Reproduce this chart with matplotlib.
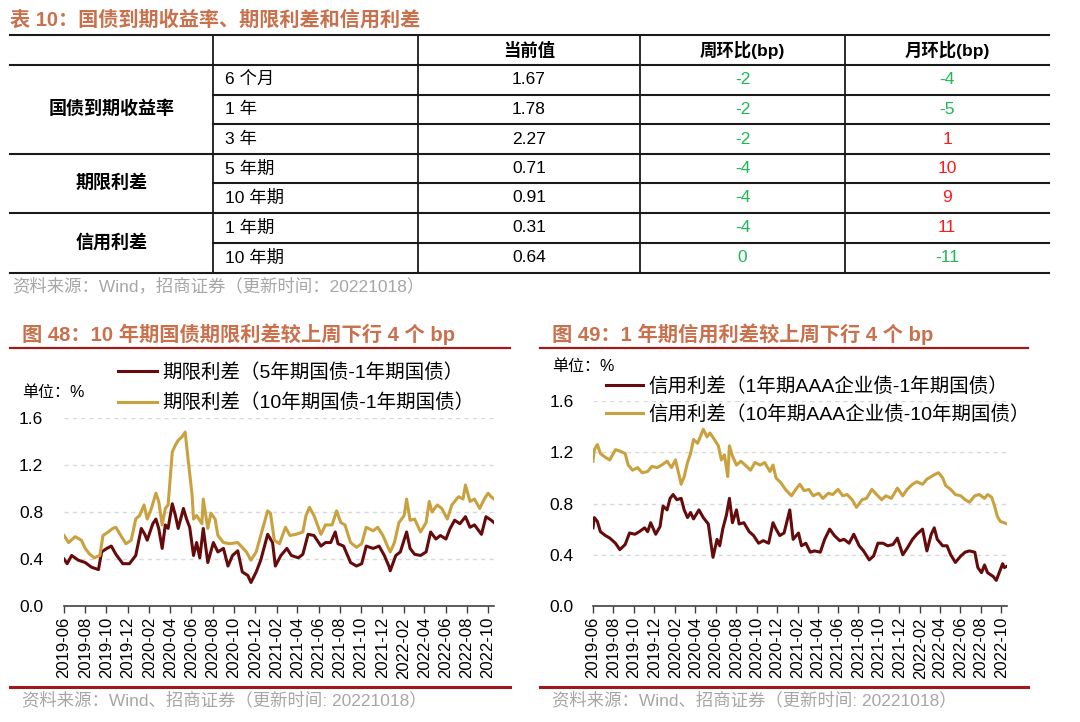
import pandas as pd
import matplotlib.pyplot as plt

plt.rcParams['font.family'] = ['Liberation Sans', 'Noto Sans CJK SC', 'DejaVu Sans']

# ---- 表10 数据 ----
groups = ['国债到期收益率', '期限利差', '信用利差']
group_sizes = [3, 2, 2]
items = ['6 个月', '1 年', '3 年', '5 年期', '10 年期', '1 年期', '10 年期']
current = [1.67, 1.78, 2.27, 0.71, 0.91, 0.31, 0.64]
wow = [-2, -2, -2, -4, -4, -4, 0]
mom = [-4, -5, 1, 10, 9, 11, -11]
headers = ['当前值', '周环比(bp)', '月环比(bp)']

# ---- 图48 期限利差 ----
term5_dates = ['2019-06-01', '2019-06-10', '2019-06-23', '2019-07-12', '2019-08-01', '2019-08-19', '2019-09-08',
               '2019-09-17', '2019-10-02', '2019-10-15', '2019-10-28', '2019-11-17', '2019-12-06', '2019-12-24',
               '2020-01-09', '2020-01-19', '2020-01-26', '2020-02-11', '2020-02-20', '2020-02-28', '2020-03-09',
               '2020-03-18', '2020-03-26', '2020-04-07', '2020-04-16', '2020-04-24', '2020-05-09', '2020-05-18',
               '2020-05-27', '2020-06-07', '2020-06-16', '2020-06-25', '2020-07-05', '2020-07-18', '2020-08-03',
               '2020-08-16', '2020-09-01', '2020-09-14', '2020-09-27', '2020-10-12', '2020-10-25', '2020-11-10',
               '2020-11-19', '2020-12-04', '2020-12-17', '2021-01-06', '2021-01-20', '2021-01-28', '2021-02-13',
               '2021-03-02', '2021-03-15', '2021-04-04', '2021-04-17', '2021-05-02', '2021-05-19', '2021-06-08',
               '2021-06-21', '2021-07-06', '2021-07-19', '2021-07-27', '2021-08-12', '2021-09-01', '2021-09-18',
               '2021-10-03', '2021-10-16', '2021-11-05', '2021-11-22', '2021-12-07', '2021-12-20', '2021-12-24',
               '2022-01-09', '2022-01-22', '2022-02-09', '2022-02-19', '2022-03-04', '2022-03-21', '2022-04-06',
               '2022-04-19', '2022-05-04', '2022-05-17', '2022-06-02', '2022-06-14', '2022-06-27', '2022-07-12',
               '2022-07-28', '2022-08-10', '2022-08-23', '2022-09-12', '2022-09-25', '2022-10-10', '2022-10-18']
term5 = [0.40, 0.36, 0.43, 0.39, 0.37, 0.33, 0.31,
         0.46, 0.49, 0.51, 0.44, 0.36, 0.36, 0.43,
         0.66, 0.61, 0.56, 0.70, 0.74, 0.66, 0.49,
         0.69, 0.66, 0.87, 0.77, 0.66, 0.83, 0.74,
         0.67, 0.43, 0.54, 0.41, 0.66, 0.37, 0.54,
         0.46, 0.49, 0.34, 0.43, 0.47, 0.29, 0.26,
         0.20, 0.29, 0.39, 0.61, 0.54, 0.34, 0.43,
         0.49, 0.43, 0.41, 0.44, 0.61, 0.60, 0.51,
         0.54, 0.54, 0.63, 0.53, 0.51, 0.37, 0.34,
         0.36, 0.51, 0.49, 0.51, 0.43, 0.34, 0.30,
         0.43, 0.46, 0.63, 0.49, 0.44, 0.43, 0.46,
         0.63, 0.57, 0.60, 0.57, 0.66, 0.73, 0.70,
         0.76, 0.67, 0.69, 0.61, 0.76, 0.73, 0.71]

term10_dates = ['2019-06-01', '2019-06-14', '2019-07-03', '2019-07-21', '2019-08-01', '2019-08-14', '2019-08-27',
                '2019-09-12', '2019-09-21', '2019-10-06', '2019-10-19', '2019-10-28', '2019-11-13', '2019-11-26',
                '2019-12-11', '2019-12-24', '2020-01-04', '2020-01-17', '2020-01-26', '2020-02-07', '2020-02-20',
                '2020-02-28', '2020-03-09', '2020-03-18', '2020-03-26', '2020-04-07', '2020-04-16', '2020-04-24',
                '2020-05-05', '2020-05-14', '2020-05-22', '2020-06-03', '2020-06-07', '2020-06-16', '2020-07-01',
                '2020-07-05', '2020-07-18', '2020-07-27', '2020-08-08', '2020-08-16', '2020-09-01', '2020-09-19',
                '2020-10-12', '2020-11-06', '2020-11-19', '2020-12-04', '2020-12-17', '2021-01-06', '2021-01-14',
                '2021-01-25', '2021-02-09', '2021-02-26', '2021-03-11', '2021-03-28', '2021-04-17', '2021-04-26',
                '2021-05-06', '2021-05-19', '2021-06-08', '2021-06-21', '2021-07-10', '2021-07-23', '2021-08-04',
                '2021-08-16', '2021-09-01', '2021-09-18', '2021-10-03', '2021-10-16', '2021-11-05', '2021-11-18',
                '2021-12-03', '2021-12-16', '2021-12-24', '2022-01-05', '2022-01-18', '2022-02-02', '2022-02-09',
                '2022-02-19', '2022-03-04', '2022-03-21', '2022-04-06', '2022-04-15', '2022-04-23', '2022-05-08',
                '2022-05-21', '2022-06-06', '2022-06-19', '2022-07-08', '2022-07-21', '2022-07-28', '2022-08-10',
                '2022-08-23', '2022-09-07', '2022-09-20', '2022-10-01', '2022-10-10', '2022-10-18']
term10 = [0.60, 0.54, 0.59, 0.56, 0.49, 0.44, 0.41,
          0.43, 0.60, 0.63, 0.66, 0.67, 0.59, 0.53,
          0.56, 0.74, 0.77, 0.86, 0.74, 0.83, 0.96,
          0.89, 0.69, 0.83, 0.86, 1.31, 1.37, 1.41,
          1.44, 1.48, 1.26, 0.94, 0.74, 0.77, 0.70,
          0.91, 0.66, 0.79, 0.74, 0.60, 0.54, 0.53,
          0.54, 0.46, 0.39, 0.46, 0.60, 0.81, 0.79,
          0.56, 0.53, 0.67, 0.60, 0.61, 0.63, 0.77,
          0.84, 0.77, 0.61, 0.69, 0.69, 0.81, 0.71,
          0.69, 0.54, 0.50, 0.53, 0.67, 0.64, 0.67,
          0.60, 0.51, 0.46, 0.54, 0.71, 0.77, 0.91,
          0.73, 0.74, 0.63, 0.71, 0.89, 0.80, 0.86,
          0.83, 0.74, 0.86, 0.93, 0.91, 1.03, 0.89,
          0.91, 0.83, 0.91, 0.96, 0.93, 0.91]

# ---- 图49 信用利差 ----
credit1_dates = ['2019-06-01', '2019-06-05', '2019-06-14', '2019-06-23', '2019-07-08', '2019-07-21', '2019-08-07',
                 '2019-08-20', '2019-09-05', '2019-09-18', '2019-10-04', '2019-10-17', '2019-11-02', '2019-11-11',
                 '2019-11-20', '2019-12-05', '2019-12-18', '2019-12-27', '2020-01-08', '2020-01-17', '2020-01-26',
                 '2020-02-06', '2020-02-19', '2020-02-28', '2020-03-09', '2020-03-18', '2020-03-27', '2020-04-12',
                 '2020-04-25', '2020-05-10', '2020-05-19', '2020-05-24', '2020-06-05', '2020-06-13', '2020-06-22',
                 '2020-07-03', '2020-07-12', '2020-07-21', '2020-08-02', '2020-08-10', '2020-08-24', '2020-09-09',
                 '2020-09-22', '2020-10-07', '2020-10-21', '2020-11-06', '2020-11-19', '2020-11-28', '2020-12-09',
                 '2020-12-22', '2021-01-08', '2021-01-18', '2021-02-03', '2021-02-12', '2021-02-25', '2021-03-10',
                 '2021-03-23', '2021-04-09', '2021-04-22', '2021-05-07', '2021-05-21', '2021-06-06', '2021-06-19',
                 '2021-07-04', '2021-07-18', '2021-08-03', '2021-08-16', '2021-09-02', '2021-09-15', '2021-09-28',
                 '2021-10-13', '2021-10-27', '2021-11-12', '2021-11-25', '2021-12-11', '2021-12-24', '2022-01-09',
                 '2022-01-22', '2022-02-08', '2022-02-21', '2022-03-06', '2022-03-15', '2022-03-24', '2022-04-09',
                 '2022-04-22', '2022-05-03', '2022-05-17', '2022-06-02', '2022-06-15', '2022-06-28', '2022-07-14',
                 '2022-07-23', '2022-08-03', '2022-08-12', '2022-08-21', '2022-09-07', '2022-09-16', '2022-10-05',
                 '2022-10-10', '2022-10-18']
credit1 = [0.61, 0.69, 0.66, 0.58, 0.55, 0.53, 0.49,
           0.44, 0.48, 0.57, 0.56, 0.58, 0.61, 0.58,
           0.65, 0.56, 0.62, 0.78, 0.75, 0.84, 0.87,
           0.83, 0.84, 0.75, 0.69, 0.73, 0.68, 0.75,
           0.69, 0.64, 0.47, 0.38, 0.52, 0.47, 0.60,
           0.71, 0.84, 0.65, 0.75, 0.64, 0.65, 0.58,
           0.55, 0.49, 0.51, 0.49, 0.65, 0.60, 0.55,
           0.57, 0.75, 0.52, 0.57, 0.47, 0.49, 0.42,
           0.43, 0.42, 0.52, 0.60, 0.55, 0.51, 0.52,
           0.49, 0.56, 0.47, 0.43, 0.36, 0.39, 0.49,
           0.49, 0.47, 0.48, 0.53, 0.40, 0.45, 0.52,
           0.56, 0.60, 0.43, 0.56, 0.61, 0.52, 0.47,
           0.47, 0.40, 0.34, 0.39, 0.42, 0.43, 0.42,
           0.30, 0.26, 0.32, 0.26, 0.23, 0.20, 0.33,
           0.30, 0.31]

credit10_dates = ['2019-06-01', '2019-06-05', '2019-06-14', '2019-06-23', '2019-07-08', '2019-07-21', '2019-08-07',
                  '2019-08-20', '2019-09-05', '2019-09-14', '2019-09-27', '2019-10-12', '2019-10-26', '2019-11-11',
                  '2019-11-24', '2019-12-09', '2019-12-23', '2020-01-08', '2020-01-21', '2020-02-02', '2020-02-11',
                  '2020-02-19', '2020-02-28', '2020-03-09', '2020-03-18', '2020-03-27', '2020-04-08', '2020-04-16',
                  '2020-04-25', '2020-05-06', '2020-05-15', '2020-05-28', '2020-06-09', '2020-06-18', '2020-06-27',
                  '2020-07-07', '2020-07-12', '2020-07-21', '2020-08-02', '2020-08-15', '2020-08-28', '2020-09-13',
                  '2020-09-26', '2020-10-12', '2020-10-25', '2020-11-10', '2020-11-19', '2020-11-28', '2020-12-13',
                  '2020-12-26', '2021-01-13', '2021-01-26', '2021-02-07', '2021-02-20', '2021-03-06', '2021-03-19',
                  '2021-04-04', '2021-04-17', '2021-05-03', '2021-05-16', '2021-06-01', '2021-06-15', '2021-06-28',
                  '2021-07-13', '2021-07-26', '2021-08-12', '2021-08-25', '2021-09-10', '2021-09-24', '2021-10-09',
                  '2021-10-22', '2021-11-07', '2021-11-25', '2021-12-11', '2021-12-24', '2022-01-09', '2022-01-22',
                  '2022-02-08', '2022-02-21', '2022-03-06', '2022-03-19', '2022-03-28', '2022-04-09', '2022-04-18',
                  '2022-05-03', '2022-05-17', '2022-06-02', '2022-06-15', '2022-06-28', '2022-07-14', '2022-07-27',
                  '2022-08-12', '2022-08-21', '2022-09-02', '2022-09-11', '2022-09-19', '2022-09-28', '2022-10-10',
                  '2022-10-18']
credit10 = [1.13, 1.22, 1.26, 1.19, 1.16, 1.14, 1.22,
            1.21, 1.19, 1.10, 1.06, 1.08, 1.04, 1.05,
            1.09, 1.08, 1.10, 1.13, 1.08, 1.14, 1.04,
            0.95, 1.01, 1.12, 1.19, 1.30, 1.27, 1.32,
            1.38, 1.32, 1.35, 1.30, 1.25, 1.14, 1.18,
            1.01, 1.25, 1.17, 1.10, 1.13, 1.10, 1.06,
            1.12, 1.10, 1.12, 1.05, 1.10, 1.00, 0.96,
            0.91, 0.86, 0.91, 0.95, 0.90, 0.91, 0.86,
            0.88, 0.84, 0.88, 0.87, 0.91, 0.86, 0.87,
            0.83, 0.77, 0.83, 0.84, 0.91, 0.87, 0.83,
            0.86, 0.84, 0.92, 0.86, 0.91, 0.95, 0.97,
            0.95, 0.99, 1.01, 1.03, 1.04, 1.00, 0.94,
            0.91, 0.87, 0.86, 0.83, 0.81, 0.86, 0.87,
            0.84, 0.87, 0.85, 0.78, 0.70, 0.66, 0.65,
            0.64]

title_color = '#C9704C'
rule_color = '#9E1B1B'
dark_red = '#650B0B'
gold = '#C9A13E'
src_color = '#A6A6A6'

W, H = 1080, 722
fig = plt.figure(figsize=(W / 100, H / 100), dpi=100)

# 背景层：表格、标题、来源
bg = fig.add_axes([0, 0, 1, 1])
bg.set_xlim(0, W)
bg.set_ylim(H, 0)
bg.axis('off')

bg.text(10, 20, '表 10：国债到期收益率、期限利差和信用利差', fontsize=14.5, fontweight='bold',
        color=title_color, va='center', ha='left')

col_x = [10, 213, 418, 640, 845, 1049]
row_y = [35, 65, 95, 124, 154, 183, 213, 243, 273]
line_kw = dict(color='#1a1a1a', lw=1.5)

# 横线
bg.plot([col_x[0], col_x[-1]], [row_y[0], row_y[0]], **line_kw)
bg.plot([col_x[0], col_x[-1]], [row_y[1], row_y[1]], **line_kw)
edges = [1]
for n in group_sizes:
    edges.append(edges[-1] + n)
for i in range(2, len(row_y)):
    x0 = col_x[0] if i in edges else col_x[1]
    bg.plot([x0, col_x[-1]], [row_y[i], row_y[i]], **line_kw)
# 竖线
for x in col_x[1:-1]:
    bg.plot([x, x], [row_y[0], row_y[-1]], color='#1a1a1a', lw=1.3)

# 表头
for j, h in enumerate(headers):
    cx = (col_x[j + 2] + col_x[j + 3]) / 2
    bg.text(cx, (row_y[0] + row_y[1]) / 2, h, fontsize=12.5, fontweight='bold', ha='center', va='center')

# 分组标签
for g, name in enumerate(groups):
    y0, y1 = row_y[edges[g]], row_y[edges[g + 1]]
    bg.text((col_x[0] + col_x[1]) / 2, (y0 + y1) / 2, name, fontsize=13, fontweight='bold',
            ha='center', va='center')

# 行数据
for i in range(len(items)):
    cy = (row_y[i + 1] + row_y[i + 2]) / 2
    bg.text(col_x[1] + 12, cy, items[i], fontsize=12.5, ha='left', va='center')
    bg.text((col_x[2] + col_x[3]) / 2, cy, f'{current[i]:.2f}', fontsize=12.5, ha='center', va='center')
    for j, v in enumerate([wow[i], mom[i]]):
        c = '#FF1A1A' if v > 0 else '#1DB954'
        bg.text((col_x[j + 3] + col_x[j + 4]) / 2, cy, str(v), fontsize=12.5, color=c,
                ha='center', va='center')

bg.text(12, 286, '资料来源：Wind，招商证券（更新时间：20221018）', fontsize=12.5, color=src_color,
        ha='left', va='center')

# 图标题和横线
bg.text(22, 334, '图 48：10 年期国债期限利差较上周下行 4 个 bp', fontsize=14.6, fontweight='bold',
        color=title_color, ha='left', va='center')
bg.text(552, 334, '图 49：1 年期信用利差较上周下行 4 个 bp', fontsize=14.6, fontweight='bold',
        color=title_color, ha='left', va='center')
for x0, x1 in [(10, 510), (540, 1028)]:
    bg.plot([x0, x1], [348, 348], color=rule_color, lw=1.6)
    bg.plot([x0, x1], [687, 687], color=rule_color, lw=2.2)
bg.text(22, 700, '资料来源：Wind、招商证券（更新时间: 20221018）', fontsize=12.5, color=src_color,
        ha='left', va='center')
bg.text(552, 700, '资料来源：Wind、招商证券（更新时间: 20221018）', fontsize=12.5, color=src_color,
        ha='left', va='center')
bg.text(22, 393, '单位：%', fontsize=11.5, ha='left', va='center')
bg.text(552, 366, '单位：%', fontsize=11.5, ha='left', va='center')

ticks = pd.date_range('2019-06-01', '2022-10-01', freq='2MS')


def style_axis(ax, pad):
    ax.set_ylim(0, 1.6)
    ax.set_yticks([0, 0.4, 0.8, 1.2, 1.6])
    ax.set_yticklabels(['0.0', '0.4', '0.8', '1.2', '1.6'])
    ax.set_xlim(pd.Timestamp('2019-06-01'), pd.Timestamp('2022-10-18'))
    ax.set_xticks(ticks)
    ax.set_xticklabels([t.strftime('%Y-%m') for t in ticks])
    for s in ['top', 'right', 'left']:
        ax.spines[s].set_visible(False)
    ax.spines['bottom'].set_color('#404040')
    ax.spines['bottom'].set_linewidth(1.2)
    ax.tick_params(axis='y', length=0, pad=pad, labelsize=12.5)
    ax.tick_params(axis='x', length=5, width=1, color='#404040', pad=3, labelsize=12, labelrotation=90)
    ax.grid(axis='y', color='#D9D9D9', linestyle=(0, (3, 3)), lw=1)
    ax.set_axisbelow(True)
    ax.patch.set_alpha(0)


ax1 = fig.add_axes([64 / W, 1 - 606 / H, (494 - 64) / W, (606 - 418) / H])
ax1.plot(pd.to_datetime(term5_dates), term5, color=dark_red, lw=2.2, label='期限利差（5年期国债-1年期国债）')
ax1.plot(pd.to_datetime(term10_dates), term10, color=gold, lw=2.2, label='期限利差（10年期国债-1年期国债）')
style_axis(ax1, 15)
ax1.legend(loc='upper left', bbox_to_anchor=(118 / W, 1 - 363 / H), bbox_transform=fig.transFigure,
           frameon=False, fontsize=14, handlelength=2.0, handletextpad=0.26, labelspacing=0.62,
           borderpad=0, borderaxespad=0)

ax2 = fig.add_axes([593 / W, 1 - 606 / H, (1007 - 593) / W, (606 - 401) / H])
ax2.plot(pd.to_datetime(credit1_dates), credit1, color=dark_red, lw=2.2,
         label='信用利差（1年期AAA企业债-1年期国债）')
ax2.plot(pd.to_datetime(credit10_dates), credit10, color=gold, lw=2.2,
         label='信用利差（10年期AAA企业债-10年期国债）')
style_axis(ax2, 14)
ax2.legend(loc='upper left', bbox_to_anchor=(606 / W, 1 - 377 / H), bbox_transform=fig.transFigure,
           frameon=False, fontsize=14, handlelength=1.9, handletextpad=0.26, labelspacing=0.48,
           borderpad=0, borderaxespad=0)

fig.savefig('out.png', dpi=100)
